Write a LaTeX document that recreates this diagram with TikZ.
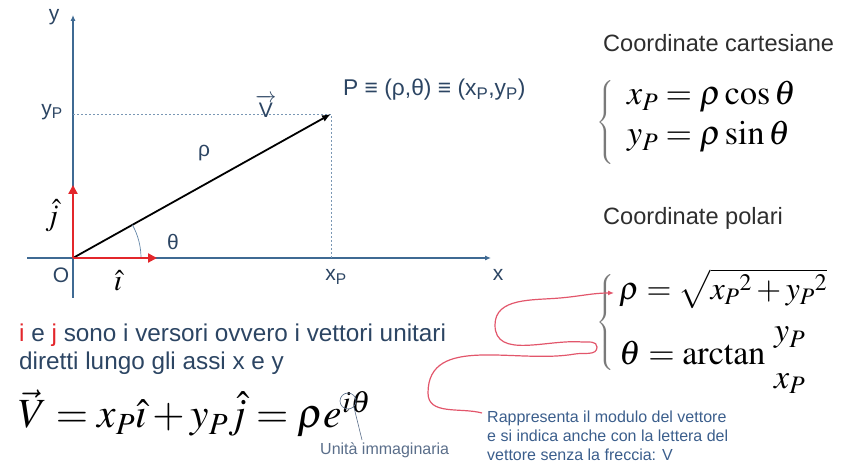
\documentclass[tikz,border=0pt]{standalone}
\usepackage{amsmath}
\usepackage{mathptmx}
\usepackage[no-math]{fontspec}
\setmainfont{Liberation Sans}
\usepackage{xcolor}
\usetikzlibrary{arrows.meta, calc}

\definecolor{labelblue}{HTML}{2C4563}
\definecolor{axisblue}{HTML}{3F6A93}
\definecolor{vecred}{HTML}{E3262B}
\definecolor{curvered}{HTML}{E2566B}
\definecolor{notegray}{HTML}{5A6E8A}
\definecolor{noteblue}{HTML}{3B5E8C}
\definecolor{titlegray}{HTML}{2E2E2E}
\definecolor{bracegray}{HTML}{7A7A7A}

\begin{document}
\begin{tikzpicture}[x=1pt, y=1pt,
    axis/.style={axisblue, line width=1.1pt, -{Latex[length=6pt,width=5pt]}},
    unitvec/.style={vecred, line width=2.6pt, -{Triangle[length=9pt,width=9pt]}},
    guide/.style={axisblue!70, line width=0.6pt, dash pattern=on 2pt off 2pt},
    lbl/.style={text=labelblue, font=\fontsize{21}{24}\selectfont, inner sep=0pt},
    title/.style={text=titlegray, font=\fontsize{23.6}{27}\selectfont, inner sep=0pt, anchor=west},
    eqn/.style={font=\fontsize{34}{40}\selectfont, inner sep=0pt, anchor=base west},
    sysbrace/.style={text=bracegray, font=\fontsize{20}{24}\selectfont, inner sep=0pt},
    note/.style={curvered, line width=1.2pt, -{Latex[length=6pt,width=5pt]}}
]
\useasboundingbox (0,0) rectangle (851,465);

% axes
\coordinate (O) at (73,207);
\coordinate (xleft) at (27,207);
\coordinate (xend) at (491,207);
\coordinate (ybot) at (73,167);
\coordinate (yend) at (73,450);
\draw[axis] (xleft) -- (xend);
\draw[axis] (ybot) -- (yend);

% point P and vector
\coordinate (P) at (331,351);
\draw[guide] (O |- P) -- (P) -- (P |- O);
\draw[line width=1.8pt, -{Latex[length=9pt,width=7pt]}] (O) -- (P);
\draw[axisblue!80, line width=0.7pt] ($(O)+(68,0)$) arc[start angle=0, end angle=29.2, radius=68];

% unit vectors
\coordinate (itip) at (157,207);
\coordinate (jtip) at (73,280);
\draw[unitvec] (O) -- (itip);
\draw[unitvec] (O) -- (jtip);

% labels
\node[lbl] (ylab) at (54,448) {y};
\node[lbl] (xlab) at (498,190) {x};
\node[lbl] (olab) at (61,190) {O};
\node[lbl] (yplab) at (52,353) {y\textsubscript{P}};
\node[lbl] (xplab) at (336,188) {x\textsubscript{P}};
\node[lbl] (rholab) at (204,312) {ρ};
\node[lbl] (thetalab) at (173,223) {θ};
\node[lbl] (vlab) at (266,359) {$\overrightarrow{\text{V}}$};
\node[lbl, anchor=west, font=\fontsize{22.8}{26}\selectfont] (plab) at (343,375) {P ≡ (ρ,θ) ≡ (x\textsubscript{P},y\textsubscript{P})};
\node[inner sep=0pt, font=\fontsize{30}{34}\selectfont] (ihat) at (118,184) {$\hat{\imath}$};
\node[inner sep=0pt, font=\fontsize{30}{34}\selectfont] (jhat) at (52,249) {$\hat{j}$};

% cartesian coordinates
\node[title] (carttitle) at (603,422) {Coordinate cartesiane};
\node[sysbrace] (cartbrace) at (606,342) {$\left\{\rule[-38pt]{0pt}{76pt}\right.$};
\node[eqn] (xeq) at (627,360) {$x_P = \rho\cos\theta$};
\node[eqn] (yeq) at (627,320) {$y_P = \rho\sin\theta$};

% polar coordinates
\node[title] (poltitle) at (603,247) {Coordinate polari};
\node[sysbrace] (polbrace) at (606,142) {$\left\{\rule[-43pt]{0pt}{86pt}\right.$};
\node[eqn, font=\fontsize{32}{38}\selectfont] (rhoeq) at (619,165) {$\rho = \sqrt{x_P{}^{2} + y_P{}^{2}}$};
\node[eqn] (thetaeq) at (619,100) {$\theta = \arctan\,\genfrac{}{}{0pt}{0}{y_P}{x_P}$};

% unit vector text
\node[text=labelblue, font=\fontsize{24.3}{28}\selectfont, inner sep=0pt, anchor=base west] (line1) at (19,123)
  {\textcolor{vecred}{i} e \textcolor{vecred}{j} sono i versori ovvero i vettori unitari};
\node[text=labelblue, font=\fontsize{24.3}{28}\selectfont, inner sep=0pt, anchor=base west] (line2) at (19,95)
  {diretti lungo gli assi x e y};

% vector formula
\node[font=\fontsize{41.5}{48}\selectfont, inner sep=0pt, anchor=base west] (veq) at (18,37)
  {$\vec{V} = x_P\hat{\imath} + y_P\hat{j} = \rho e^{i\theta}$};
\node[draw=notegray, circle, line width=0.6pt, minimum size=16pt, inner sep=0pt] (imagring) at (348,64) {};
\coordinate (imagtip) at (362,25);
\draw[notegray, line width=0.6pt] (imagring.south east) -- (imagtip);
\node[text=notegray, font=\fontsize{16}{19}\selectfont, inner sep=0pt, anchor=west] (imaglab) at (320,15) {Unità immaginaria};

% modulus note
\node[text=noteblue, font=\fontsize{16}{19}\selectfont, inner sep=0pt, anchor=north west, align=left] (modnote) at (487,54)
  {Rappresenta il modulo del vettore\\e si indica anche con la lettera del\\vettore senza la freccia: V};
\coordinate (notestart) at (482,52);
\coordinate (rhotip) at (614,172);
\draw[note] (notestart) to[out=165,in=-90] (428,72)
  to[out=90,in=190] (575,111)
  to[out=10,in=-90] (597,118)
  to[out=90,in=0] (582,123)
  to[out=175,in=-90] (495,140)
  to[out=90,in=185] (560,167)
  to[out=5,in=180] (rhotip);
\end{tikzpicture}
\end{document}
